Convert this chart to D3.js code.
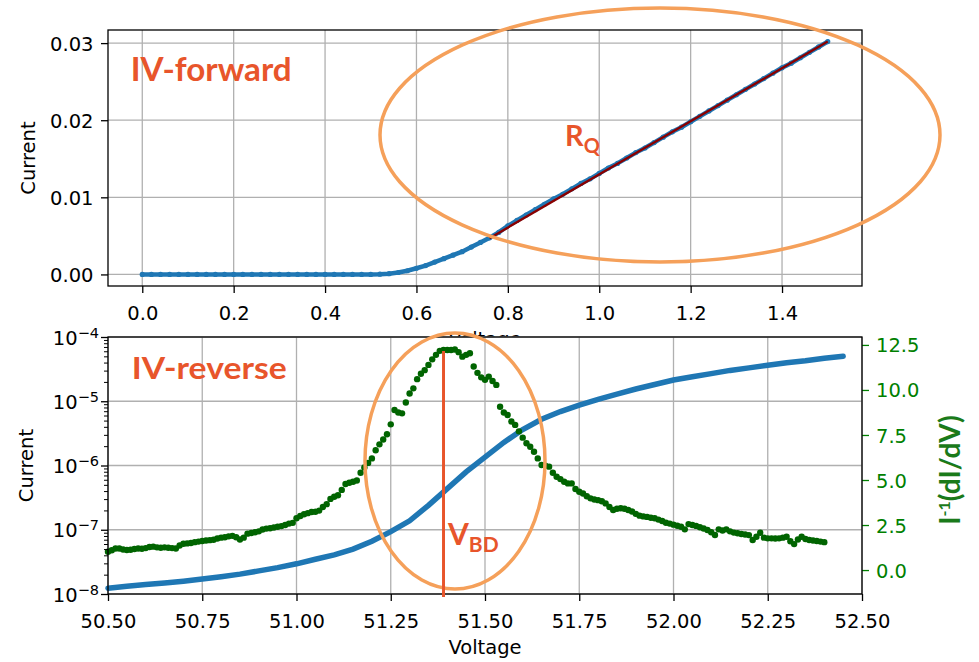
<!DOCTYPE html>
<html>
<head>
<meta charset="utf-8">
<script src="https://cdn.jsdelivr.net/npm/d3@7"></script>
<style>
body{margin:0;background:#fff}
svg text{font-family:"DejaVu Sans",sans-serif}
</style>
</head>
<body>
<svg id="chart" width="979" height="662"></svg>
<script>
// ---- forward IV (sweep 0 .. 1.5 V, step 0.02 V)
var fwdStep = 0.02;
var fwdCurrent = [0,0,0,0,0,0,0,0,0,0,0,0,0,0,0,0,0,0,0,0,0,0,0,0,0,0,
  0.00003,0.00010,0.00025,0.00048,0.00080,0.00115,0.00160,0.00205,0.00250,0.00295,
  0.00355,0.00415,0.00475,0.00545,0.0063,0.0070,0.0077,0.0084,0.0091,0.0098,
  0.0104,0.0111,0.0118,0.0124,0.0131,0.0138,0.0144,0.0151,0.0158,0.0164,
  0.0171,0.0178,0.0185,0.0191,0.0198,0.0205,0.0212,0.0219,0.0226,0.0233,
  0.0240,0.0247,0.0254,0.0261,0.0268,0.0274,0.0281,0.0288,0.0295,0.0302];
var fitVoltage = [0.76, 1.50];
var fitCurrent = [0.0047, 0.0302];
var fwdXTicks = [0, 0.2, 0.4, 0.6, 0.8, 1.0, 1.2, 1.4];
var fwdYTicks = [0, 0.01, 0.02, 0.03];

// ---- reverse IV (sweep 50.50 .. 52.45 V, step 0.05 V)
var revStart = 50.5, revStep = 0.05;
var revCurrent = [1.23e-8,1.32e-8,1.40e-8,1.48e-8,1.58e-8,1.71e-8,1.86e-8,2.04e-8,2.29e-8,2.57e-8,
  2.95e-8,3.47e-8,4.07e-8,5.01e-8,6.61e-8,9.33e-8,1.38e-7,2.40e-7,4.36e-7,7.94e-7,
  1.35e-6,2.29e-6,3.63e-6,5.25e-6,6.92e-6,8.71e-6,1.07e-5,1.29e-5,1.55e-5,1.82e-5,
  2.14e-5,2.40e-5,2.69e-5,3.02e-5,3.31e-5,3.63e-5,3.98e-5,4.27e-5,4.68e-5,5.01e-5];
// I^-1 dI/dV  (sweep 50.50 .. 52.40 V, step 0.01 V, one row per 0.1 V)
var derivStep = 0.01;
var derivValue = [
  1.02,1.10,1.20,1.20,1.14,1.11,1.13,1.17,1.20,1.18,
  1.22,1.28,1.30,1.26,1.24,1.26,1.24,1.22,1.20,1.36,
  1.46,1.48,1.50,1.55,1.58,1.61,1.64,1.66,1.68,1.75,
  1.80,1.82,1.87,1.90,1.82,1.70,1.80,2.02,2.06,2.10,
  2.15,2.25,2.30,2.32,2.36,2.40,2.44,2.50,2.58,2.62,
  2.88,3.00,3.10,3.16,3.22,3.24,3.30,3.50,3.66,3.95,
  4.07,4.15,4.45,4.78,4.85,4.90,4.97,5.40,5.70,5.95,
  6.20,6.65,6.98,7.25,7.54,8.09,8.89,8.75,8.70,9.30,
  9.80,10.09,10.60,10.90,11.10,11.39,11.70,11.95,12.17,12.22,
  12.22,12.22,12.25,12.10,11.85,11.95,12.04,11.30,10.95,10.70,
  10.56,10.74,10.50,10.28,9.07,8.75,8.61,8.25,8.06,7.70,
  7.35,7.04,6.85,6.57,6.20,5.83,5.80,5.74,5.40,5.18,
  5.05,4.90,4.81,4.81,4.50,4.35,4.25,4.10,3.98,3.92,
  3.88,3.82,3.70,3.50,3.33,3.40,3.43,3.40,3.33,3.25,
  3.12,3.02,2.98,2.95,2.90,2.88,2.80,2.72,2.63,2.58,
  2.52,2.46,2.40,2.26,2.55,2.50,2.45,2.38,2.31,2.22,
  2.10,1.95,2.26,2.20,2.26,2.15,2.08,2.04,2.00,1.97,
  1.94,1.67,1.85,2.07,1.80,1.76,1.76,1.75,1.76,1.80,
  1.85,1.60,1.44,1.70,1.85,1.72,1.67,1.64,1.61,1.58,
  1.55];
var vbd = 51.39;
var revXTicks = [50.5, 50.75, 51.0, 51.25, 51.5, 51.75, 52.0, 52.25, 52.5];
var revYTicks = [1e-8, 1e-7, 1e-6, 1e-5, 1e-4];
var rightTicks = [0, 2.5, 5, 7.5, 10, 12.5];

var blue = "#1f77b4", dgreen = "#006400", green = "#008000", grid = "#b0b0b0";
var accent = "#e8552b", ring = "#f5a05a";
var fs = "19.5px";

var svg = d3.select("#chart");

var fwd = {l:108, r:862, t:30, b:286};
var rev = {l:108, r:862, t:337, b:594};

var xF = d3.scaleLinear().domain([-0.075, 1.575]).range([fwd.l, fwd.r]);
var yF = d3.scaleLinear().domain([-0.0015, 0.0317]).range([fwd.b, fwd.t]);
var xR = d3.scaleLinear().domain([50.5, 52.5]).range([rev.l, rev.r]);
var yR = d3.scaleLog().domain([1e-8, 1e-4]).range([rev.b, rev.t]);
var y2 = d3.scaleLinear().domain([-1.33, 12.94]).range([rev.b, rev.t]);

function styleAxis(g, color){
  g.select(".domain").remove();
  g.attr("font-family", "DejaVu Sans").attr("font-size", fs);
  g.selectAll(".tick line").attr("stroke", color).attr("stroke-width", 1.3);
  g.selectAll(".tick text").attr("fill", color);
}

// ================= top: forward =================
var gF = svg.append("g");

// top x label (partly hidden by lower panel)
gF.append("text").attr("x", (fwd.l+fwd.r)/2).attr("y", 346)
  .attr("text-anchor", "middle").style("font-size", fs).text("Voltage");

gF.append("g").selectAll("line").data(fwdXTicks).join("line")
  .attr("x1", d => xF(d)).attr("x2", d => xF(d)).attr("y1", fwd.t).attr("y2", fwd.b)
  .attr("stroke", grid).attr("stroke-width", 1.3);
gF.append("g").selectAll("line").data(fwdYTicks).join("line")
  .attr("y1", d => yF(d)).attr("y2", d => yF(d)).attr("x1", fwd.l).attr("x2", fwd.r)
  .attr("stroke", grid).attr("stroke-width", 1.3);

var fwdPts = fwdCurrent.map((c, i) => [i*fwdStep, c]);
gF.append("path").datum(fwdPts)
  .attr("d", d3.line().x(d => xF(d[0])).y(d => yF(d[1])))
  .attr("fill", "none").attr("stroke", blue).attr("stroke-width", 4.5)
  .attr("stroke-linecap", "round");
gF.append("g").selectAll("circle").data(fwdPts).join("circle")
  .attr("cx", d => xF(d[0])).attr("cy", d => yF(d[1])).attr("r", 2.6)
  .attr("fill", blue);

gF.append("line")
  .attr("x1", xF(fitVoltage[0])).attr("y1", yF(fitCurrent[0]))
  .attr("x2", xF(fitVoltage[1])).attr("y2", yF(fitCurrent[1]))
  .attr("stroke", "#8b0000").attr("stroke-width", 2.4);

var axFx = gF.append("g").attr("transform", "translate(0," + fwd.b + ")")
  .call(d3.axisBottom(xF).tickValues(fwdXTicks).tickFormat(d3.format(".1f")).tickSize(7).tickSizeOuter(0));
styleAxis(axFx, "#000");
axFx.selectAll(".tick text").attr("y", 33.5).attr("dy", null);

var axFy = gF.append("g").attr("transform", "translate(" + fwd.l + ",0)")
  .call(d3.axisLeft(yF).tickValues(fwdYTicks).tickFormat(d3.format(".2f")).tickSize(7).tickSizeOuter(0));
styleAxis(axFy, "#000");
axFy.selectAll(".tick text").attr("x", -14.5).attr("dy", "0.36em");

gF.append("rect").attr("x", fwd.l).attr("y", fwd.t).attr("width", fwd.r-fwd.l).attr("height", fwd.b-fwd.t)
  .attr("fill", "none").attr("stroke", "#000").attr("stroke-width", 1.3);

gF.append("text").attr("transform", "translate(34.5," + (fwd.t+fwd.b)/2 + ") rotate(-90)")
  .attr("text-anchor", "middle").style("font-size", fs).text("Current");

gF.append("ellipse").attr("cx", 660).attr("cy", 135).attr("rx", 280).attr("ry", 127)
  .attr("fill", "none").attr("stroke", ring).attr("stroke-width", 3.5);

gF.append("text").attr("x", 130.7).attr("y", 80.7)
  .attr("textLength", 161).attr("lengthAdjust", "spacingAndGlyphs")
  .style("font-family", "Lato").style("font-weight", "bold").style("font-size", "33px")
  .attr("fill", accent).text("IV-forward");

var rq = gF.append("text").attr("x", 565).attr("y", 146)
  .style("font-family", "Lato").style("font-weight", "bold").style("font-size", "29px").attr("fill", accent);
rq.append("tspan").text("R");
rq.append("tspan").attr("dy", 6.5).style("font-size", "20px").text("Q");

// ================= bottom: reverse =================
var gR = svg.append("g");
gR.append("rect").attr("x", rev.l).attr("y", rev.t).attr("width", rev.r-rev.l).attr("height", rev.b-rev.t)
  .attr("fill", "#fff");

gR.append("g").selectAll("line").data(revXTicks).join("line")
  .attr("x1", d => xR(d)).attr("x2", d => xR(d)).attr("y1", rev.t).attr("y2", rev.b)
  .attr("stroke", grid).attr("stroke-width", 1.3);
gR.append("g").selectAll("line").data(revYTicks).join("line")
  .attr("y1", d => yR(d)).attr("y2", d => yR(d)).attr("x1", rev.l).attr("x2", rev.r)
  .attr("stroke", grid).attr("stroke-width", 1.3);

var revPts = revCurrent.map((c, i) => [revStart + i*revStep, c]);
gR.append("path").datum(revPts)
  .attr("d", d3.line().x(d => xR(d[0])).y(d => yR(d[1])))
  .attr("fill", "none").attr("stroke", blue).attr("stroke-width", 5.5)
  .attr("stroke-linecap", "round");

var derivPts = derivValue.map((v, i) => [revStart + i*derivStep, v]);
gR.append("g").selectAll("circle").data(derivPts).join("circle")
  .attr("cx", d => xR(d[0])).attr("cy", d => y2(d[1])).attr("r", 3.2)
  .attr("fill", dgreen);

var axRx = gR.append("g").attr("transform", "translate(0," + rev.b + ")")
  .call(d3.axisBottom(xR).tickValues(revXTicks).tickFormat(d3.format(".2f")).tickSize(7).tickSizeOuter(0));
styleAxis(axRx, "#000");
axRx.selectAll(".tick text").attr("y", 34).attr("dy", null);

// log axis: minor ticks
var minor = [];
[1e-8, 1e-7, 1e-6, 1e-5].forEach(function(p){ for (var k = 2; k < 10; k++) minor.push(p*k); });
var axMinor = gR.append("g").attr("transform", "translate(" + rev.l + ",0)")
  .call(d3.axisLeft(yR).tickValues(minor).tickFormat("").tickSize(4).tickSizeOuter(0));
styleAxis(axMinor, "#000");
axMinor.selectAll(".tick line").attr("stroke-width", 1);

var axRy = gR.append("g").attr("transform", "translate(" + rev.l + ",0)")
  .call(d3.axisLeft(yR).tickValues(revYTicks).tickFormat("").tickSize(7).tickSizeOuter(0));
styleAxis(axRy, "#000");
axRy.selectAll(".tick text").each(function(d){
  var t = d3.select(this).attr("x", -9).attr("dy", "0.36em").text(null);
  t.append("tspan").text("10");
  t.append("tspan").attr("dy", -7).style("font-size", "14.5px")
    .text("\u2212" + Math.round(-Math.log10(d)));
});

var axR2 = gR.append("g").attr("transform", "translate(" + rev.r + ",0)")
  .call(d3.axisRight(y2).tickValues(rightTicks).tickFormat(d3.format(".1f")).tickSize(7).tickSizeOuter(0));
styleAxis(axR2, green);
axR2.selectAll(".tick text").attr("x", 14).attr("dy", "0.36em");

gR.append("rect").attr("x", rev.l).attr("y", rev.t).attr("width", rev.r-rev.l).attr("height", rev.b-rev.t)
  .attr("fill", "none").attr("stroke", "#000").attr("stroke-width", 1.3);

gR.append("text").attr("transform", "translate(33," + (rev.t+rev.b)/2 + ") rotate(-90)")
  .attr("text-anchor", "middle").style("font-size", fs).text("Current");
gR.append("text").attr("x", (rev.l+rev.r)/2).attr("y", 654)
  .attr("text-anchor", "middle").style("font-size", fs).text("Voltage");

var rl = gR.append("text").attr("transform", "translate(960,470) rotate(-90)")
  .attr("text-anchor", "middle").attr("fill", "#1a7a1a")
  .style("font-family", "Lato").style("font-weight", "bold").style("font-size", "28px");
rl.append("tspan").text("I");
rl.append("tspan").attr("dy", -10).style("font-size", "16px").text("-1");
rl.append("tspan").attr("dy", 10).text("(dI/dV)");

gR.append("ellipse").attr("cx", 455).attr("cy", 461).attr("rx", 90).attr("ry", 128)
  .attr("fill", "none").attr("stroke", ring).attr("stroke-width", 3.5);

gR.append("line").attr("x1", xR(vbd)).attr("x2", xR(vbd)).attr("y1", 351).attr("y2", 597)
  .attr("stroke", accent).attr("stroke-width", 3);

gR.append("text").attr("x", 131.7).attr("y", 379.3)
  .attr("textLength", 155).attr("lengthAdjust", "spacingAndGlyphs")
  .style("font-family", "Lato").style("font-weight", "bold").style("font-size", "31px")
  .attr("fill", accent).text("IV-reverse");

var vb = gR.append("text").attr("x", 448).attr("y", 545)
  .style("font-family", "Lato").style("font-weight", "bold").style("font-size", "30px").attr("fill", accent);
vb.append("tspan").text("V");
vb.append("tspan").attr("dy", 6.7).style("font-size", "21px").text("BD");
</script>
</body>
</html>
